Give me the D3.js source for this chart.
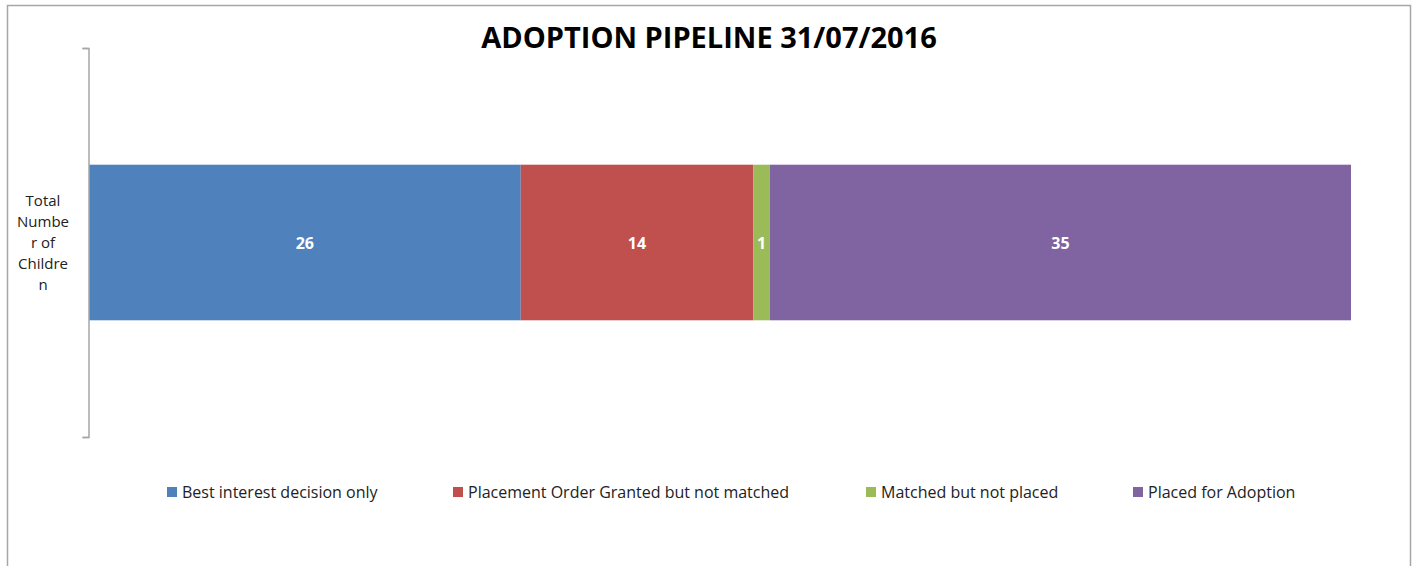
<!DOCTYPE html>
<html>
<head>
<script src="https://d3js.org/d3.v7.min.js"></script>
<style>
  body { margin: 0; background: #fff; }
  text { font-family: "Open Sans", "DejaVu Sans", sans-serif; }
</style>
</head>
<body>
<svg width="1417" height="566"></svg>
<script>
// data
var category = "Total Number of Children";
var categoryLines = ["Total", "Numbe", "r of", "Childre", "n"];
var seriesNames = ["Best interest decision only", "Placement Order Granted but not matched", "Matched but not placed", "Placed for Adoption"];
var seriesValues = [26, 14, 1, 35];
var seriesColors = ["#4f81bd", "#c0504d", "#9bbb59", "#8064a2"];
var legendX = [167, 453, 866, 1133];

var svg = d3.select("svg");

// outer chart border
svg.append("rect")
  .attr("x", 7.5).attr("y", 5.5)
  .attr("width", 1403).attr("height", 600)
  .attr("fill", "none").attr("stroke", "#a6a6a6").attr("stroke-width", 1.5);

svg.append("text")
  .attr("x", 709).attr("y", 48)
  .attr("text-anchor", "middle")
  .attr("font-size", 29).attr("font-weight", "bold")
  .attr("fill", "#000")
  .text("ADOPTION PIPELINE 31/07/2016");

var plotLeft = 89, plotRight = 1351, plotTop = 48, plotBottom = 437;

var x = d3.scaleLinear()
  .domain([0, d3.sum(seriesValues)])
  .range([plotLeft, plotRight]);

var y = d3.scaleBand()
  .domain([category])
  .range([plotTop, plotBottom])
  .paddingInner(0.6).paddingOuter(0.3);

// stacked segments
var stacked = [];
var acc = 0;
seriesValues.forEach(function(v, i) {
  stacked.push({ name: seriesNames[i], value: v, x0: acc, x1: acc + v, color: seriesColors[i] });
  acc += v;
});

var g = svg.append("g");
g.selectAll("rect.seg")
  .data(stacked).enter()
  .append("rect")
  .attr("class", "seg")
  .attr("x", function(d) { return x(d.x0); })
  .attr("y", y(category))
  .attr("width", function(d) { return x(d.x1) - x(d.x0); })
  .attr("height", y.bandwidth())
  .attr("fill", function(d) { return d.color; });

g.selectAll("text.lbl")
  .data(stacked).enter()
  .append("text")
  .attr("class", "lbl")
  .attr("x", function(d) { return (x(d.x0) + x(d.x1)) / 2; })
  .attr("y", y(category) + y.bandwidth() / 2 + 6)
  .attr("text-anchor", "middle")
  .attr("font-size", 16).attr("font-weight", "bold")
  .attr("fill", "#fff")
  .text(function(d) { return d.value; });

// y axis
var yAxis = d3.axisLeft(d3.scaleLinear().domain([0, 1]).range([plotBottom, plotTop]))
  .tickValues([0, 1]).tickSize(6).tickFormat("");
var ax = svg.append("g")
  .attr("transform", "translate(" + (plotLeft - 0.5) + ",0)")
  .call(yAxis);
ax.selectAll("path, line").attr("stroke", "#a6a6a6").attr("stroke-width", 1.5);

// category label wrapped
var lab = svg.append("text")
  .attr("text-anchor", "middle")
  .attr("font-size", 15).attr("fill", "#222");
categoryLines.forEach(function(t, i) {
  lab.append("tspan")
    .attr("x", 43)
    .attr("y", 206 + i * 21)
    .text(t);
});

// legend
var leg = svg.selectAll("g.leg")
  .data(seriesNames).enter()
  .append("g")
  .attr("class", "leg")
  .attr("transform", function(d, i) { return "translate(" + legendX[i] + ",487)"; });
leg.append("rect")
  .attr("width", 10).attr("height", 10)
  .attr("fill", function(d, i) { return seriesColors[i]; });
leg.append("text")
  .attr("x", 15).attr("y", 10.5)
  .attr("font-size", 16).attr("fill", "#222")
  .text(function(d) { return d; });
</script>
</body>
</html>
